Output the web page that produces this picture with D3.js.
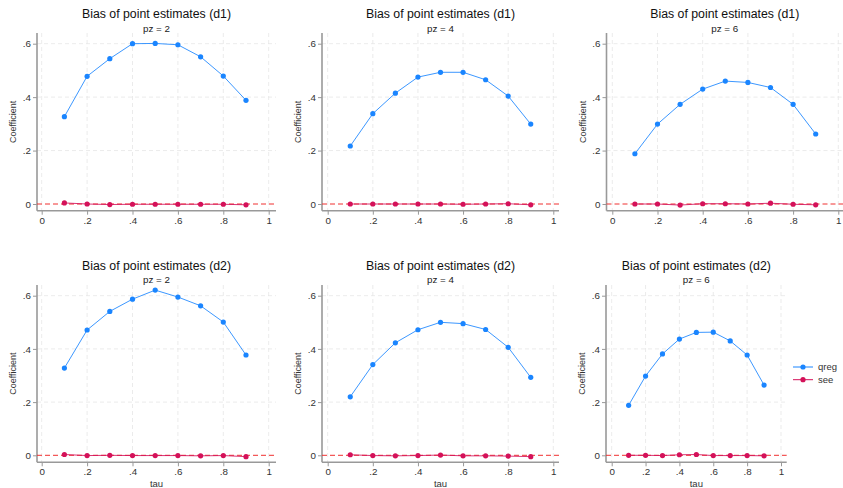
<!DOCTYPE html>
<html>
<head>
<meta charset="utf-8">
<script src="https://cdn.jsdelivr.net/npm/d3@7"></script>
<style>
  body { margin: 0; background: #fff; }
  svg { font-family: "Liberation Sans", Arial, sans-serif; display: block; }
  .grid line { stroke: #e6e6e6; stroke-dasharray: 4,3; stroke-width: 0.8; }
  .axis path, .axis line { stroke: #999; }
  .axis text { fill: #333; font-size: 9.8px; }
</style>
</head>
<body>
<svg width="843" height="488"></svg>
<script>
const svg = d3.select("svg");

// data
const tau = [0.1, 0.2, 0.3, 0.4, 0.5, 0.6, 0.7, 0.8, 0.9];
const xTicks = [0, 0.2, 0.4, 0.6, 0.8, 1];
const yTicks = [0, 0.2, 0.4, 0.6];
const titles = ["Bias of point estimates (d1)", "Bias of point estimates (d1)", "Bias of point estimates (d1)",
                "Bias of point estimates (d2)", "Bias of point estimates (d2)", "Bias of point estimates (d2)"];
const subtitles = ["pz = 2", "pz = 4", "pz = 6", "pz = 2", "pz = 4", "pz = 6"];
const seriesNames = ["qreg", "see"];
const colors = ["#1a85ff", "#d41159"];

const qreg = [
  [0.327, 0.478, 0.544, 0.600, 0.601, 0.596, 0.551, 0.479, 0.388],
  [0.217, 0.338, 0.415, 0.475, 0.493, 0.493, 0.465, 0.404, 0.299],
  [0.188, 0.299, 0.373, 0.430, 0.460, 0.455, 0.436, 0.373, 0.262],
  [0.328, 0.471, 0.541, 0.587, 0.621, 0.595, 0.562, 0.501, 0.377],
  [0.220, 0.341, 0.423, 0.472, 0.500, 0.495, 0.473, 0.406, 0.293],
  [0.188, 0.298, 0.381, 0.437, 0.462, 0.463, 0.430, 0.377, 0.264]
];
const see = [
  [0.004, 0.000, -0.002, -0.001, -0.001, -0.001, -0.001, -0.001, -0.003],
  [0.000, 0.000, 0.000, 0.000, 0.000, -0.001, 0.000, 0.001, -0.003],
  [0.000, 0.000, -0.004, 0.001, 0.001, 0.000, 0.003, -0.001, -0.003],
  [0.003, -0.001, 0.000, -0.001, -0.001, -0.001, -0.002, -0.001, -0.005],
  [0.002, -0.001, -0.002, -0.001, 0.001, -0.002, -0.002, -0.003, -0.005],
  [0.000, 0.000, -0.001, 0.002, 0.003, -0.001, -0.001, -0.001, -0.002]
];

// panel layout (pixel positions of tick 0 / tick 1 and plot edges)
const cols = [
  { x0: 41.7, x1: 268.7, left: 37, right: 276 },
  { x0: 327.7, x1: 553.3, left: 322, right: 559 },
  { x0: 612.3, x1: 838.3, left: 606.5, right: 843 }
];
const col6 = { x0: 611.7, x1: 781, left: 606, right: 786.7 };
const rows = [
  { y0: 204, y6: 43.7, top: 33, bottom: 210.7, title: 17.5, sub: 31.5, xlab: 237.5 },
  { y0: 455.3, y6: 295.7, top: 285, bottom: 462.3, title: 269.5, sub: 283, xlab: 486.5 }
];

const fmt = d => d === 0 ? "0" : d === 1 ? "1" : d3.format(".1f")(d).replace(/^0/, "");

function drawPanel(i) {
  const r = rows[Math.floor(i / 3)];
  const c = i === 5 ? col6 : cols[i % 3];
  const x = d3.scaleLinear().domain([0, 1]).range([c.x0, c.x1]);
  const y = d3.scaleLinear().domain([0, 0.6]).range([r.y0, r.y6]);
  const g = svg.append("g");

  // grid
  const grid = g.append("g").attr("class", "grid");
  grid.selectAll(".gx").data(xTicks).join("line")
    .attr("x1", d => x(d)).attr("x2", d => x(d))
    .attr("y1", r.top).attr("y2", r.bottom);
  grid.selectAll(".gy").data(yTicks.filter(d => d > 0)).join("line")
    .attr("x1", c.left).attr("x2", c.right)
    .attr("y1", d => y(d)).attr("y2", d => y(d));

  // axes
  g.append("g").attr("class", "axis")
    .attr("transform", `translate(${c.left},0)`)
    .call(d3.axisLeft(y).tickValues(yTicks).tickFormat(fmt).tickSize(4).tickPadding(2))
    .call(a => a.select(".domain").attr("d", `M0,${r.top}V${r.bottom}`).attr("stroke-width", 1.6));
  g.append("g").attr("class", "axis")
    .attr("transform", `translate(0,${r.bottom})`)
    .call(d3.axisBottom(x).tickValues(xTicks).tickFormat(fmt).tickSize(4).tickPadding(2))
    .call(a => a.select(".domain").attr("d", `M${c.left},0H${c.right}`).attr("stroke-width", 1.6));

  // reference line at 0
  g.append("line")
    .attr("x1", c.left).attr("x2", c.right)
    .attr("y1", y(0)).attr("y2", y(0))
    .attr("stroke", "#f03030").attr("stroke-width", 1)
    .attr("stroke-dasharray", "5,3");

  // series
  const line = d3.line().x((d, j) => x(tau[j])).y(d => y(d));
  [qreg[i], see[i]].forEach((vals, k) => {
    g.append("path").datum(vals)
      .attr("d", line).attr("fill", "none")
      .attr("stroke", colors[k]).attr("stroke-width", 1)
      .attr("stroke-opacity", 0.85);
    g.selectAll(".m" + k).data(vals).join("circle")
      .attr("cx", (d, j) => x(tau[j])).attr("cy", d => y(d))
      .attr("r", 2.6).attr("fill", colors[k]);
  });

  // titles
  const cx = (c.left + c.right) / 2;
  g.append("text").attr("x", cx).attr("y", r.title)
    .attr("text-anchor", "middle").attr("font-size", 12.3).attr("fill", "#111")
    .text(titles[i]);
  g.append("text").attr("x", cx).attr("y", r.sub)
    .attr("text-anchor", "middle").attr("font-size", 9.8).attr("fill", "#222")
    .text(subtitles[i]);
  g.append("text")
    .attr("transform", `translate(${c.left - 21},${(r.top + r.bottom) / 2}) rotate(-90)`)
    .attr("text-anchor", "middle").attr("font-size", 9).attr("fill", "#333")
    .text("Coefficient");
  g.append("text").attr("x", cx).attr("y", r.xlab)
    .attr("text-anchor", "middle").attr("font-size", 9.5).attr("fill", "#333")
    .text("tau");
}

[0, 1, 2, 3, 4, 5].forEach(drawPanel);

// the top row's "tau" labels are cut off by the lower row's area
svg.append("rect").attr("x", 0).attr("y", 231).attr("width", 843).attr("height", 14).attr("fill", "#fff");

// legend
const legend = svg.append("g").attr("transform", "translate(793,367)");
seriesNames.forEach((name, k) => {
  const lg = legend.append("g").attr("transform", `translate(0,${k * 12.7})`);
  lg.append("line").attr("x1", 0).attr("x2", 20).attr("stroke", colors[k]).attr("stroke-width", 1);
  lg.append("circle").attr("cx", 10).attr("r", 2.6).attr("fill", colors[k]);
  lg.append("text").attr("x", 25).attr("y", 3.3).attr("font-size", 9.5).attr("fill", "#333").text(name);
});
</script>
</body>
</html>
